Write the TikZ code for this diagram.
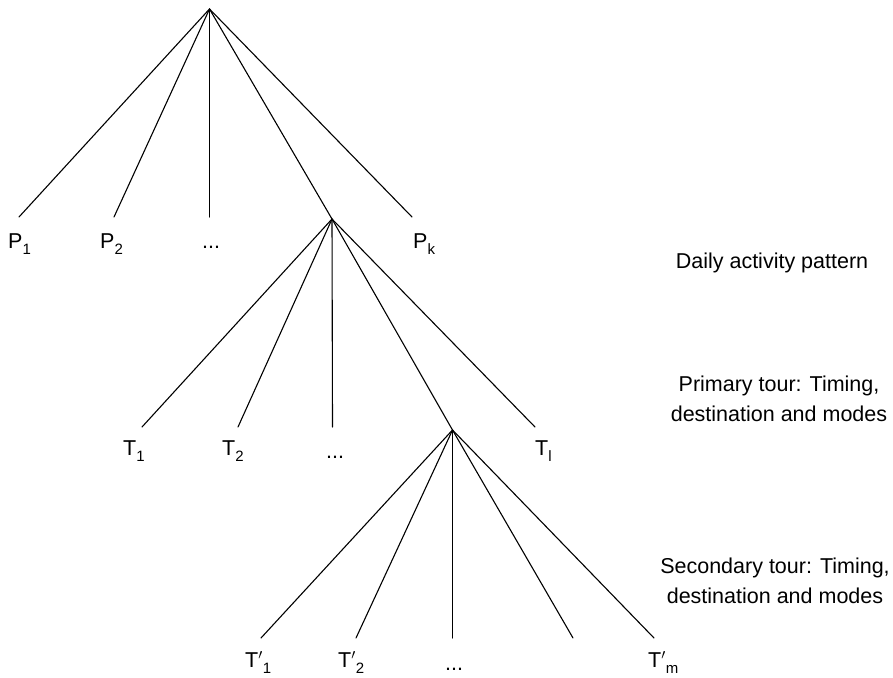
\documentclass[tikz,border=0pt]{standalone}
\usepackage{fontspec}
\setmainfont{Liberation Sans}
% lowered index used in the leaf labels
\newcommand{\lowidx}[1]{\raisebox{-0.32em}{\fontsize{15}{15}\selectfont #1}}
\begin{document}
\begin{tikzpicture}[x=1pt,y=-1pt,
  branch/.style={line width=1.1pt,line cap=round},
  leaf/.style={inner sep=0pt,anchor=base west},
  level/.style={inner sep=0pt,anchor=base,align=center},
  every node/.style={font=\fontsize{21.5}{30}\selectfont}]
\useasboundingbox (0,0) rectangle (893,677);

% choice points
\coordinate (root) at (209.5,9);
\coordinate (sa) at (332,219);
\coordinate (sb) at (452.5,430);

% daily activity patterns
\coordinate (p1) at (19,217);
\coordinate (p2) at (114,217);
\coordinate (p3) at (209.5,217);
\coordinate (pk) at (412,217);
\node[leaf] (lp1) at (8,248) {P\lowidx{1}};
\node[leaf] (lp2) at (100,248) {P\lowidx{2}};
\node[leaf] (lp3) at (202,248) {...};
\node[leaf] (lpk) at (413,248) {P\lowidx{k}};
\foreach \e in {p1,p2,p3,sa,pk} \draw[branch] (root) -- (\e);

% primary tours
\coordinate (t1) at (142,427);
\coordinate (t2) at (238,427);
\coordinate (t3) at (332.5,427);
\coordinate (tl) at (535,427);
\node[leaf] (lt1) at (123,455) {T\lowidx{1}};
\node[leaf] (lt2) at (222,455) {T\lowidx{2}};
\node[leaf] (lt3) at (326,458) {...};
\node[leaf] (ltl) at (535,455) {T\lowidx{l}};
\foreach \e in {t1,t2,t3,sb,tl} \draw[branch] (sa) -- (\e);

% secondary tours
\coordinate (u1) at (261,638);
\coordinate (u2) at (356,638);
\coordinate (u3) at (452.5,638);
\coordinate (u4) at (573,638);
\coordinate (um) at (654,638);
\node[leaf] (lu1) at (245,667) {T$'$\lowidx{1}};
\node[leaf] (lu2) at (338,667) {T$'$\lowidx{2}};
\node[leaf] (lu3) at (445,670) {...};
\node[leaf] (lum) at (648,667) {T$'$\lowidx{m}};
\foreach \e in {u1,u2,u3,u4,um} \draw[branch] (sb) -- (\e);

% level descriptions
\node[level] (da) at (772,268) {Daily activity pattern};
\node[level] (pt) at (779,421) {Primary tour: Timing,\\destination and modes};
\node[level] (st) at (775,603) {Secondary tour: Timing,\\destination and modes};
\end{tikzpicture}
\end{document}
